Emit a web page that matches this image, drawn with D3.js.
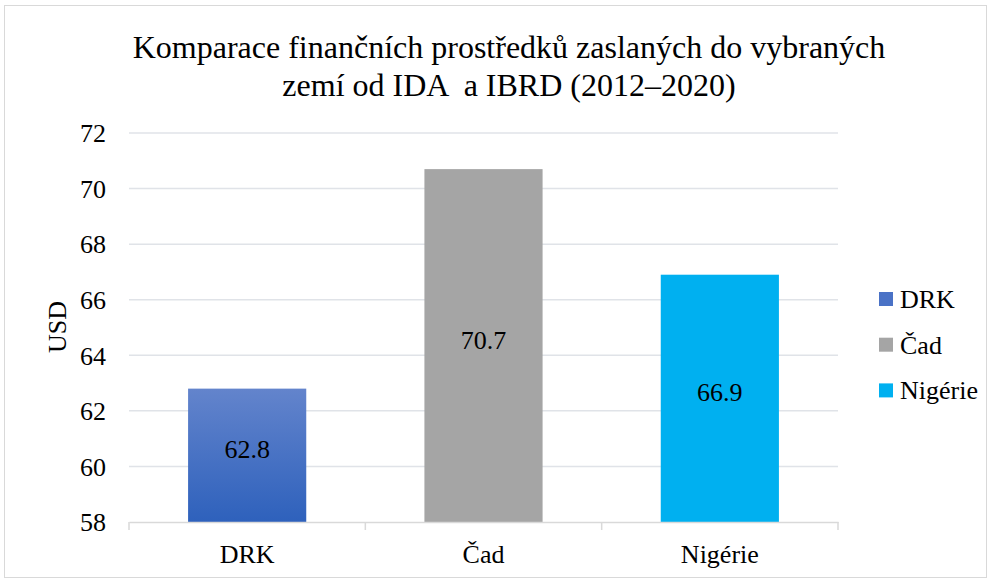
<!DOCTYPE html>
<html>
<head>
<meta charset="utf-8">
<script src="https://cdn.jsdelivr.net/npm/d3@7"></script>
<style>
  body { margin: 0; background: #fff; }
  text { font-family: "Liberation Serif", "Times New Roman", serif; fill: #000; }
</style>
</head>
<body>
<script>
// data
const categories = ["DRK", "Čad", "Nigérie"];
const values = [62.8, 70.7, 66.9];
const colors = ["url(#drkGrad)", "#a5a5a5", "#00b0f0"];
const legendColors = ["#4a72c6", "#a5a5a5", "#00b0f0"];
const yTicks = [58, 60, 62, 64, 66, 68, 70, 72];
const titleLines = ["Komparace finančních prostředků zaslaných do vybraných", "zemí od IDA  a IBRD (2012–2020)"];

const w = 992, h = 581;
const plotLeft = 129, plotRight = 838, plotTop = 133, plotBottom = 522;
const serif = "'Liberation Serif', 'Times New Roman', serif";

const svg = d3.select("body").append("svg")
  .attr("width", w).attr("height", h);

const defs = svg.append("defs");
const grad = defs.append("linearGradient").attr("id", "drkGrad")
  .attr("x1", 0).attr("y1", 0).attr("x2", 0).attr("y2", 1);
grad.append("stop").attr("offset", "0%").attr("stop-color", "#6384cc");
grad.append("stop").attr("offset", "100%").attr("stop-color", "#2e61bc");

// chart border
svg.append("rect")
  .attr("x", 4.5).attr("y", 5.5).attr("width", 982).attr("height", 572)
  .attr("fill", "none").attr("stroke", "#d9d9d9");

// scales
const x = d3.scaleBand().domain(categories).range([plotLeft, plotRight]).paddingInner(0.5).paddingOuter(0.25);
const y = d3.scaleLinear().domain([58, 72]).range([plotBottom, plotTop]);

// gridlines
svg.append("g").selectAll("line").data(yTicks.slice(1)).enter().append("line")
  .attr("x1", plotLeft).attr("x2", plotRight)
  .attr("y1", d => y(d)).attr("y2", d => y(d))
  .attr("stroke", "#e0e3e8").attr("stroke-width", 1.5);

// y axis labels
const leftAxis = d3.axisLeft(y).tickValues(yTicks).tickSize(0).tickPadding(23);
const gy = svg.append("g").attr("transform", "translate(" + plotLeft + ",0)").call(leftAxis);
gy.select(".domain").remove();
gy.selectAll("text").attr("dy", "0.34em")
  .style("font-size", "26px").style("font-family", serif).attr("fill", "#000");

// bars
svg.selectAll("rect.bar").data(values).enter().append("rect")
  .attr("class", "bar")
  .attr("x", (d, i) => x(categories[i]))
  .attr("width", x.bandwidth())
  .attr("y", d => y(d))
  .attr("height", d => y(58) - y(d))
  .attr("fill", (d, i) => colors[i]);

// bar labels
svg.selectAll("text.val").data(values).enter().append("text")
  .attr("class", "val")
  .attr("x", (d, i) => x(categories[i]) + x.bandwidth() / 2)
  .attr("y", d => (y(d) + y(58)) / 2)
  .attr("dy", "0.12em")
  .attr("text-anchor", "middle")
  .style("font-size", "26px").style("font-family", serif)
  .text(d => d.toFixed(1));

// x axis
const bottomAxis = d3.axisBottom(x).tickSize(0).tickPadding(0);
const gx = svg.append("g").attr("transform", "translate(0," + plotBottom + ")").call(bottomAxis);
gx.select(".domain").attr("stroke", "#d9d9d9").attr("stroke-width", 1.5);
gx.selectAll("text").attr("dy", null).attr("y", 41)
  .style("font-size", "26px").style("font-family", serif).attr("fill", "#000");

// category separators
const step = (plotRight - plotLeft) / categories.length;
svg.append("g").selectAll("line").data(d3.range(categories.length + 1)).enter().append("line")
  .attr("x1", d => plotLeft + d * step).attr("x2", d => plotLeft + d * step)
  .attr("y1", plotBottom).attr("y2", plotBottom + 8)
  .attr("stroke", "#d9d9d9").attr("stroke-width", 1.5);

// y title
svg.append("text")
  .attr("transform", "translate(66,327) rotate(-90)")
  .attr("text-anchor", "middle")
  .style("font-size", "26px").style("font-family", serif)
  .text("USD");

// title
svg.append("g").selectAll("text").data(titleLines).enter().append("text")
  .attr("x", 509).attr("y", (d, i) => 58 + i * 38)
  .attr("text-anchor", "middle")
  .attr("xml:space", "preserve")
  .style("white-space", "pre")
  .style("font-size", "32px").style("font-family", serif)
  .text(d => d);

// legend
const lg = svg.append("g").selectAll("g").data(categories).enter().append("g")
  .attr("transform", (d, i) => "translate(879," + (299 + i * 45.7) + ")");
lg.append("rect").attr("x", 0).attr("y", -7).attr("width", 14).attr("height", 14)
  .attr("fill", (d, i) => legendColors[i]);
lg.append("text").attr("x", 21).attr("y", 9)
  .style("font-size", "26px").style("font-family", serif).text(d => d);
</script>
</body>
</html>
